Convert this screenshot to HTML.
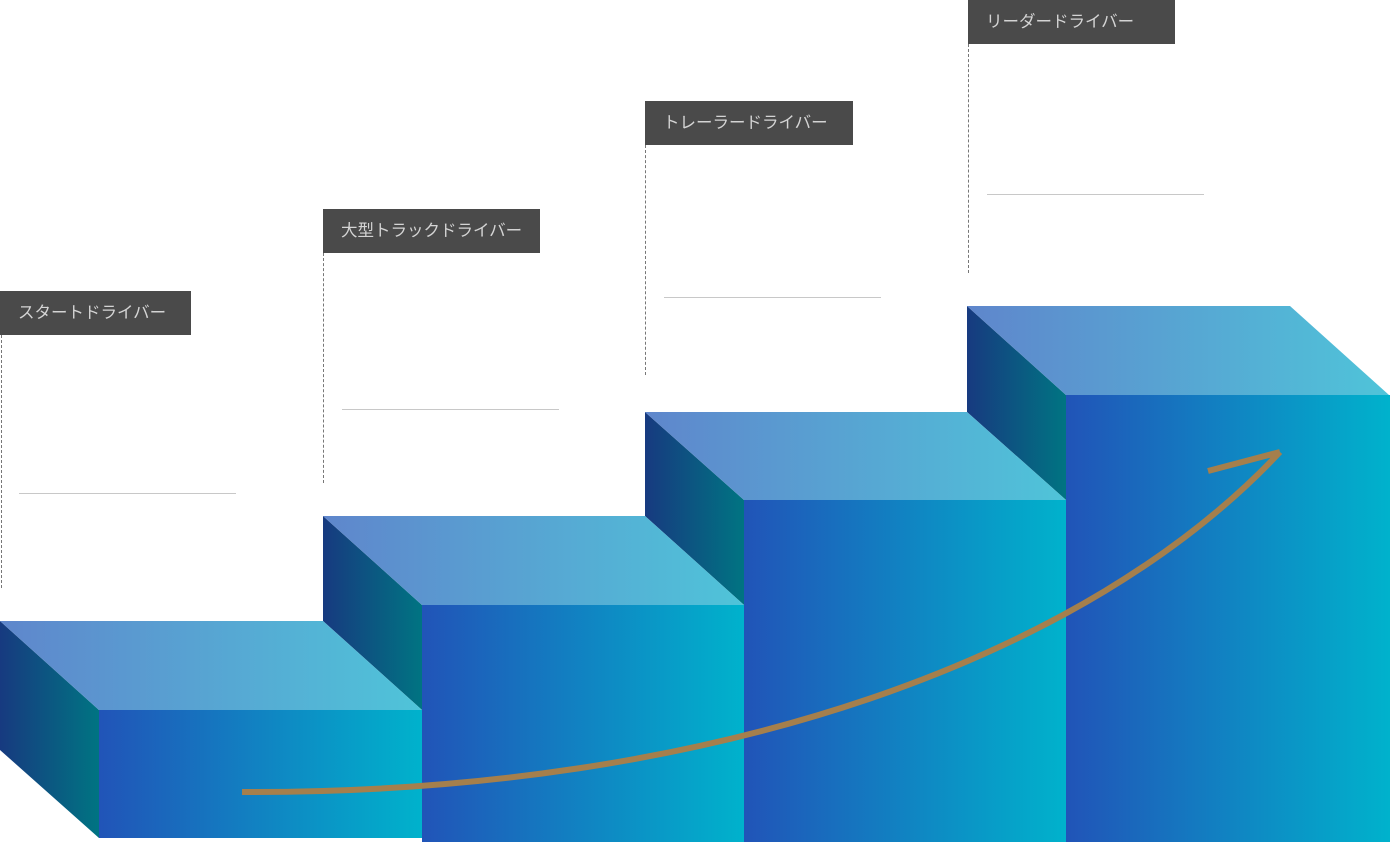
<!DOCTYPE html>
<html><head><meta charset="utf-8"><style>
html,body{margin:0;padding:0;background:#fff;width:1390px;height:842px;overflow:hidden;position:relative}
.lbl{position:absolute;background:#4a4a4a;color:#d4d4d4;font:16.5px "Liberation Sans","Noto Sans CJK JP",sans-serif;line-height:44px;padding-left:18px;box-sizing:border-box;height:44px;white-space:nowrap}
.d{position:absolute;border-left:1px dashed #777;width:0}
.g{position:absolute;height:1px;background:#c8c8c8}
svg{position:absolute;left:0;top:0}
</style></head><body>
<svg width="1390" height="842">
<defs>
<linearGradient id="t" x1="0" x2="1"><stop offset="0" stop-color="#5f86cc"/><stop offset="1" stop-color="#4fc4d9"/></linearGradient>
<linearGradient id="f" x1="0" x2="1"><stop offset="0" stop-color="#2154b8"/><stop offset="1" stop-color="#00b2cc"/></linearGradient>
<linearGradient id="l" x1="0" x2="1"><stop offset="0" stop-color="#173a80"/><stop offset="1" stop-color="#007482"/></linearGradient>
</defs>
<polygon points="967,306 1066,395 1066,500 967,412" fill="url(#l)"/>
<polygon points="967,306 1290,306 1389,395 1066,395" fill="url(#t)"/>
<rect x="1066" y="395" width="324" height="447" fill="url(#f)"/>
<polygon points="645,412 744,500 744,605 645,516" fill="url(#l)"/>
<polygon points="645,412 967,412 1066,500 744,500" fill="url(#t)"/>
<rect x="744" y="500" width="322" height="342" fill="url(#f)"/>
<polygon points="323,516 422,605 422,710 323,621" fill="url(#l)"/>
<polygon points="323,516 645,516 744,605 422,605" fill="url(#t)"/>
<rect x="422" y="605" width="322" height="237" fill="url(#f)"/>
<polygon points="0,621 99,710 99,838 0,750" fill="url(#l)"/>
<polygon points="0,621 323,621 422,710 99,710" fill="url(#t)"/>
<rect x="99" y="710" width="323" height="128" fill="url(#f)"/>
<path d="M242 792 C720 794 1090 655 1280 452 M1208 471 L1280 452" fill="none" stroke="#a57f4c" stroke-width="6"/>
</svg>
<div class="lbl" style="left:0;top:291px;width:191px">スタートドライバー</div>
<div class="d" style="left:1px;top:335px;height:253px"></div>
<div class="g" style="left:19px;top:493px;width:217px"></div>
<div class="lbl" style="left:323px;top:209px;width:217px">大型トラックドライバー</div>
<div class="d" style="left:323px;top:253px;height:230px"></div>
<div class="g" style="left:342px;top:409px;width:217px"></div>
<div class="lbl" style="left:645px;top:101px;width:208px">トレーラードライバー</div>
<div class="d" style="left:645px;top:145px;height:230px"></div>
<div class="g" style="left:664px;top:297px;width:217px"></div>
<div class="lbl" style="left:968px;top:0;width:207px">リーダードライバー</div>
<div class="d" style="left:968px;top:44px;height:229px"></div>
<div class="g" style="left:987px;top:194px;width:217px"></div>
</body></html>
